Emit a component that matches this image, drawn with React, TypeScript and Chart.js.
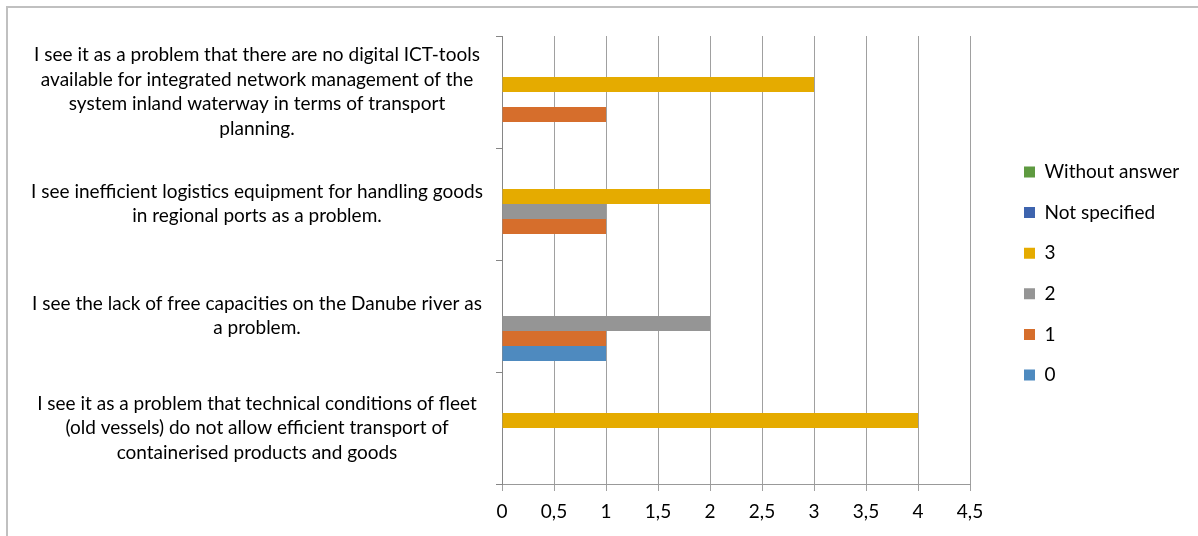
import React, { useEffect, useRef } from "react";
import { Chart, registerables } from "chart.js";

Chart.register(...registerables);

const categories: string[][] = [
  [
    "I see it as a problem that there are no digital ICT-tools",
    "available for integrated network management of the",
    "system inland waterway in terms of transport",
    "planning.",
  ],
  [
    "I see inefficient logistics equipment for handling goods",
    "in regional ports as a problem.",
  ],
  [
    "I see the lack of free capacities on the Danube river as",
    "a problem.",
  ],
  [
    "I see it as a problem that technical conditions of fleet",
    "(old vessels) do not allow efficient transport of",
    "containerised products and goods",
  ],
];

const seriesNames = ["Without answer", "Not specified", "3", "2", "1", "0"];
const withoutAnswer: (number | null)[] = [null, null, null, null];
const notSpecified: (number | null)[] = [null, null, null, null];
const score3: (number | null)[] = [3, 2, null, 4];
const score2: (number | null)[] = [null, 1, 2, null];
const score1: (number | null)[] = [1, 1, 1, null];
const score0: (number | null)[] = [null, null, 1, null];
const seriesColors = ["#5E9A40", "#3E64AE", "#E5AB00", "#959595", "#D66E2C", "#4E8ABF"];
const xTicks = [0, 0.5, 1, 1.5, 2, 2.5, 3, 3.5, 4, 4.5];

const FONT_FAMILY = "Lato";
const FONT_SIZE = 19;

export default function App() {
  const ref = useRef<HTMLCanvasElement | null>(null);

  useEffect(() => {
    if (!ref.current) return;
    const m = document.createElement("canvas").getContext("2d")!;
    m.font = `${FONT_SIZE}px ${FONT_FAMILY}`;
    let widest = 0;
    categories.forEach((c) => c.forEach((l) => (widest = Math.max(widest, m.measureText(l).width))));
    let legendText = 0;
    seriesNames.forEach((s) => (legendText = Math.max(legendText, m.measureText(s).width)));

    const W = 1198;
    const plotLeft = 502;
    const plotRight = 970;
    const legPad = 21.6;
    const boxW = 11;
    const legendBoxX = 1024;
    const spacer = legendBoxX - legPad - plotRight;
    const legendW = legPad + boxW + FONT_SIZE / 2 + legendText + 10;
    const padRight = Math.max(0, W - plotRight - spacer - legendW);
    const yPad = 239 - widest / 2;

    const allData = [withoutAnswer, notSpecified, score3, score2, score1, score0];
    const chart = new Chart(ref.current, {
      type: "bar",
      data: {
        labels: categories,
        datasets: seriesNames.map((name, i) => ({
          label: name,
          data: allData[i],
          backgroundColor: seriesColors[i],
          borderWidth: 0,
          categoryPercentage: 90 / 112,
          barPercentage: 1,
        })),
      },
      options: {
        indexAxis: "y",
        animation: false,
        responsive: false,
        devicePixelRatio: 1,
        layout: { padding: { top: 36, bottom: 0, left: 0, right: padRight } },
        plugins: {
          tooltip: { enabled: false },
          legend: {
            position: "right",
            fullSize: false,
            title: { display: true, text: " ", padding: 0, font: { size: 27, lineHeight: 1 } },
            labels: {
              boxWidth: boxW,
              boxHeight: 11,
              padding: legPad,
              color: "#000",
              font: { family: FONT_FAMILY, size: FONT_SIZE },
            },
          },
        },
        scales: {
          x: {
            type: "linear",
            min: 0,
            max: 4.5,
            afterBuildTicks: (s: any) => {
              s.ticks = xTicks.map((v) => ({ value: v }));
            },
            afterFit: (s: any) => {
              s.height = 52;
              s.paddingLeft = 0;
              s.paddingRight = 0;
            },
            ticks: {
              padding: 9.3,
              color: "#000",
              font: { family: FONT_FAMILY, size: FONT_SIZE },
              callback: (v: any) => String(v).replace(".", ","),
              maxRotation: 0,
              autoSkip: false,
            },
            grid: { color: "#a0a0a0", tickColor: "#a0a0a0", tickLength: 7, lineWidth: 1 },
            border: { color: "#999999", width: 1 },
          },
          y: {
            type: "category",
            afterFit: (s: any) => {
              s.width = plotLeft;
              s.paddingTop = 0;
              s.paddingBottom = 0;
            },
            ticks: {
              crossAlign: "center",
              padding: yPad,
              color: "#000",
              autoSkip: false,
              font: { family: FONT_FAMILY, size: FONT_SIZE, lineHeight: 1.29 },
            },
            grid: {
              drawOnChartArea: false,
              drawTicks: true,
              tickLength: 6,
              color: "#868686",
              tickColor: "#868686",
            },
            border: { color: "#868686", width: 1 },
          },
          spacer: {
            type: "linear",
            position: "right",
            display: true,
            afterFit: (s: any) => {
              s.width = spacer;
              s.paddingTop = 0;
              s.paddingBottom = 0;
            },
            ticks: { display: false },
            grid: { display: false, drawTicks: false },
            border: { display: false },
          },
        },
      } as any,
    });
    return () => chart.destroy();
  }, []);

  return (
    <div style={{ position: "absolute", left: 0, top: 0, width: 1198, height: 536, overflow: "hidden", background: "#fff" }}>
      <div
        style={{
          position: "absolute",
          left: 6,
          top: 6,
          width: 1400,
          height: 800,
          border: "2px solid #c0c0c0",
          boxSizing: "border-box",
        }}
      />
      <canvas ref={ref} width={1198} height={536} style={{ position: "absolute", left: 0, top: 0 }} />
    </div>
  );
}
